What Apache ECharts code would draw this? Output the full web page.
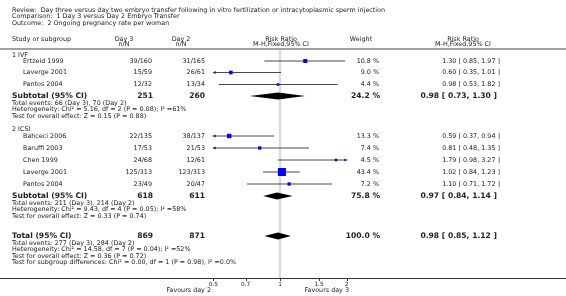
<!DOCTYPE html>
<html>
<head>
<meta charset="utf-8">
<script src="https://cdn.jsdelivr.net/npm/echarts@6/dist/echarts.min.js"></script>
<style>
  html, body { margin: 0; padding: 0; background: #fff; }
  #chart { width: 566px; height: 296px; }
</style>
</head>
<body>
<div id="chart"></div>
<script>
// study level data
const studies = ['Ertzeid 1999', 'Laverge 2001', 'Pantos 2004', 'Bahceci 2006', 'Baruffi 2003', 'Chen 1999', 'Laverge 2001', 'Pantos 2004'];
const day3 = ['39/160', '15/59', '12/32', '22/135', '17/53', '24/68', '125/313', '23/49'];
const day2 = ['31/165', '26/61', '13/34', '38/137', '21/53', '12/61', '123/313', '20/47'];
const weights = [10.8, 9.0, 4.4, 13.3, 7.4, 4.5, 43.4, 7.2];
const rr = [1.30, 0.60, 0.98, 0.59, 0.81, 1.79, 1.02, 1.10];
const lower = [0.85, 0.35, 0.53, 0.37, 0.48, 0.98, 0.84, 0.71];
const upper = [1.97, 1.01, 1.82, 0.94, 1.35, 3.27, 1.23, 1.72];

// subgroups and pooled rows
const subgroups = ['1 IVF', '2 ICSI'];
const pooledLabels = ['Subtotal (95% CI)', 'Subtotal (95% CI)', 'Total (95% CI)'];
const pooledDay3 = [251, 618, 869];
const pooledDay2 = [260, 611, 871];
const pooledWeight = [24.2, 75.8, 100.0];
const pooledRR = [0.98, 0.97, 0.98];
const pooledLower = [0.73, 0.84, 0.85];
const pooledUpper = [1.30, 1.14, 1.12];
const footnotes = [
  ['Total events: 66 (Day 3), 70 (Day 2)', 'Heterogeneity: Chi\u00b2 = 5.16, df = 2 (P = 0.08); I\u00b2 =61%', 'Test for overall effect: Z = 0.15 (P = 0.88)'],
  ['Total events: 211 (Day 3), 214 (Day 2)', 'Heterogeneity: Chi\u00b2 = 9.43, df = 4 (P = 0.05); I\u00b2 =58%', 'Test for overall effect: Z = 0.33 (P = 0.74)'],
  ['Total events: 277 (Day 3), 284 (Day 2)', 'Heterogeneity: Chi\u00b2 = 14.58, df = 7 (P = 0.04); I\u00b2 =52%', 'Test for overall effect: Z = 0.36 (P = 0.72)', 'Test for subgroup differences: Chi\u00b2 = 0.00, df = 1 (P = 0.98), I\u00b2 =0.0%']
];
const axisTicks = [0.5, 0.7, 1, 1.5, 2];
const titleLines = [
  'Review:  Day three versus day two embryo transfer following in vitro fertilization or intracytoplasmic sperm injection',
  'Comparison:  1 Day 3 versus Day 2 Embryo Transfer',
  'Outcome:  2 Ongoing pregnancy rate per woman'
];

// layout (pixel rows)
const studyY = [61, 72.5, 84.5, 136, 148, 160, 172, 184];
const groupY = [55.5, 129];
const pooledY = [96, 196, 236];
const footY = [[103, 109.5, 116], [203, 209.5, 216], [243, 249.5, 256, 262.5]];
const axisY = 278;
const FONT = '"DejaVu Sans", Verdana, sans-serif';
const FS = 6.4;
const XMIN = 0.5, XMAX = 2;

const chart = echarts.init(document.getElementById('chart'));

const txt = (text, x, y, align, size, bold) => ({
  type: 'text',
  silent: true,
  style: {
    text: text, x: x, y: y,
    align: align || 'left', textAlign: align || 'left',
    verticalAlign: 'middle', textVerticalAlign: 'middle',
    fontFamily: FONT, fontSize: size || FS, fontWeight: bold ? 'bold' : 'normal',
    fill: '#222'
  }
});

const fmtCI = (r, l, u) => `${r.toFixed(2)} [ ${l.toFixed(2)}, ${u.toFixed(2)} ]`;

const graphics = [];
titleLines.forEach((t, i) => graphics.push(txt(t, 12, [10, 16.5, 23][i])));
graphics.push(txt('Study or subgroup', 12, 39));
graphics.push(txt('Day 3', 124, 39, 'center'), txt('n/N', 124, 44, 'center'));
graphics.push(txt('Day 2', 181, 39, 'center'), txt('n/N', 181, 44, 'center'));
graphics.push(txt('Risk Ratio', 281, 39, 'center'), txt('M-H,Fixed,95% CI', 281, 44, 'center'));
graphics.push(txt('Weight', 361, 39, 'center'));
graphics.push(txt('Risk Ratio', 463, 39, 'center'), txt('M-H,Fixed,95% CI', 463, 44, 'center'));
graphics.push({
  type: 'line', silent: true,
  shape: { x1: 0, y1: 49, x2: 566, y2: 49 },
  style: { stroke: '#a0a0a0', lineWidth: 2 }
});
subgroups.forEach((g, i) => graphics.push(txt(g, 12, groupY[i])));
studies.forEach((s, i) => {
  const y = studyY[i];
  graphics.push(txt(s, 23, y));
  graphics.push(txt(day3[i], 152, y, 'right'));
  graphics.push(txt(day2[i], 205, y, 'right'));
  graphics.push(txt(weights[i].toFixed(1) + ' %', 379, y, 'right'));
  graphics.push(txt(fmtCI(rr[i], lower[i], upper[i]), 500, y, 'right'));
});
pooledLabels.forEach((s, i) => {
  const y = pooledY[i];
  graphics.push(txt(s, 12, y, 'left', 7.6, true));
  graphics.push(txt(String(pooledDay3[i]), 153, y, 'right', 7.6, true));
  graphics.push(txt(String(pooledDay2[i]), 205, y, 'right', 7.6, true));
  graphics.push(txt(pooledWeight[i].toFixed(1) + ' %', 380, y, 'right', 7.6, true));
  graphics.push(txt(fmtCI(pooledRR[i], pooledLower[i], pooledUpper[i]), 497, y, 'right', 7.6, true));
  footnotes[i].forEach((f, j) => graphics.push(txt(f, 12, footY[i][j])));
});
graphics.push({
  type: 'line', silent: true,
  shape: { x1: 0, y1: axisY + 0.5, x2: 566, y2: axisY + 0.5 },
  style: { stroke: '#333', lineWidth: 1 }
});
graphics.push(txt('Favours day 2', 211, 290, 'right'));
graphics.push(txt('Favours day 3', 349, 290, 'right'));

const clampX = v => Math.min(XMAX, Math.max(XMIN, v));

const option = {
  animation: false,
  grid: { left: 213.3, right: 219.3, top: 0, bottom: 0 },
  xAxis: { type: 'log', logBase: 10, min: XMIN, max: XMAX, show: false },
  yAxis: { type: 'value', min: 0, max: 296, inverse: true, show: false },
  graphic: graphics,
  series: [
    {
      // reference line at RR = 1
      type: 'custom',
      silent: true,
      clip: false,
      z: 1,
      data: [[1]],
      renderItem: (params, api) => {
        const top = api.coord([api.value(0), 50]);
        const bot = api.coord([api.value(0), axisY]);
        return {
          type: 'line',
          shape: { x1: top[0], y1: top[1], x2: bot[0], y2: bot[1] },
          style: { stroke: '#dcdcdc', lineWidth: 2.5 }
        };
      }
    },
    {
      // study confidence intervals and squares
      type: 'custom',
      silent: true,
      clip: false,
      z: 3,
      data: rr.map((v, i) => [v, lower[i], upper[i], i]),
      renderItem: (params, api) => {
        const i = api.value(3);
        const y = studyY[i];
        const pl = api.coord([clampX(api.value(1)), y]);
        const pu = api.coord([clampX(api.value(2)), y]);
        const pc = api.coord([api.value(0), y]);
        const yy = pc[1];
        const kids = [{
          type: 'line',
          shape: { x1: pl[0], y1: yy, x2: pu[0], y2: yy },
          style: { stroke: '#333', lineWidth: 0.9 }
        }];
        if (api.value(1) < XMIN) {
          kids.push({ type: 'polygon', shape: { points: [[pl[0] - 1, yy], [pl[0] + 2.5, yy - 1.6], [pl[0] + 2.5, yy + 1.6]] }, style: { fill: '#333' } });
        }
        if (api.value(2) > XMAX) {
          kids.push({ type: 'polygon', shape: { points: [[pu[0] + 1, yy], [pu[0] - 2.5, yy - 1.6], [pu[0] - 2.5, yy + 1.6]] }, style: { fill: '#333' } });
        }
        const s = Math.max(1.6, 8 * Math.sqrt(weights[i] / 43.4));
        kids.push({
          type: 'rect',
          shape: { x: pc[0] - s / 2, y: yy - s / 2, width: s, height: s },
          style: { fill: '#0000ff' }
        });
        return { type: 'group', children: kids };
      }
    },
    {
      // pooled diamonds
      type: 'custom',
      silent: true,
      clip: false,
      z: 3,
      data: pooledRR.map((v, i) => [v, pooledLower[i], pooledUpper[i], i]),
      renderItem: (params, api) => {
        const y = pooledY[api.value(3)];
        const pl = api.coord([api.value(1), y]);
        const pu = api.coord([api.value(2), y]);
        const pc = api.coord([api.value(0), y]);
        const h = 3.6;
        return {
          type: 'polygon',
          shape: { points: [[pl[0], pc[1]], [pc[0], pc[1] - h], [pu[0], pc[1]], [pc[0], pc[1] + h]] },
          style: { fill: '#000' }
        };
      }
    },
    {
      // axis ticks and labels
      type: 'custom',
      silent: true,
      clip: false,
      z: 4,
      data: axisTicks.map(t => [t]),
      renderItem: (params, api) => {
        const p = api.coord([api.value(0), axisY]);
        const x = Math.round(p[0]) + 0.5;
        return {
          type: 'group',
          children: [
            { type: 'line', shape: { x1: x, y1: axisY, x2: x, y2: axisY + 3 }, style: { stroke: '#333', lineWidth: 1 } },
            {
              type: 'text',
              style: {
                text: String(api.value(0)), x: p[0], y: axisY + 6,
                align: 'center', verticalAlign: 'middle',
                fontFamily: FONT, fontSize: 5.8, fill: '#222'
              }
            }
          ]
        };
      }
    }
  ]
};

chart.setOption(option);
</script>
</body>
</html>
